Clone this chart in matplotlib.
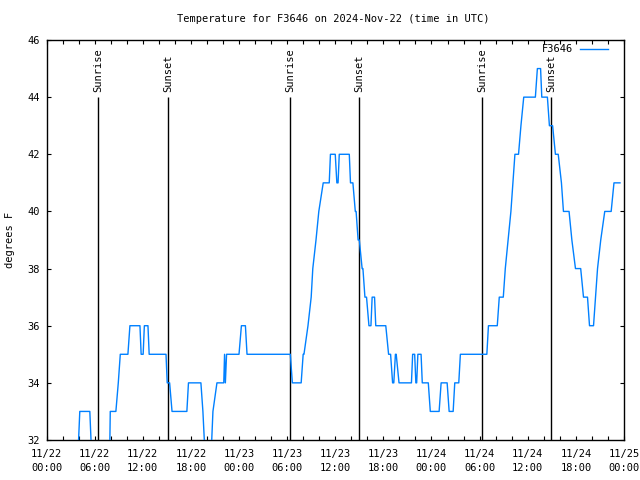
import matplotlib
matplotlib.use("Agg")
import matplotlib.pyplot as plt

# ---- data (hours since 2024-11-22 00:00 UTC, temperature in F) ----
hours = [0.0, 3.85, 4.15, 5.4, 5.7, 7.85, 7.95, 8.65, 8.95, 9.2,
         10.15, 10.4, 11.65, 11.8, 12.05, 12.2, 12.65, 12.8, 14.9, 15.05,
         15.35, 15.65, 17.5, 17.7, 19.25, 19.5, 19.85, 20.45, 20.75, 21.25,
         22.1, 22.2, 22.3, 22.45, 24.0, 24.3, 24.8, 25.0, 30.4, 30.65,
         31.75, 32.0, 32.1, 32.6, 33.0, 33.2, 33.6, 33.95, 34.5, 35.25,
         35.4, 36.0, 36.2, 36.35, 36.5, 37.75, 37.9, 38.2, 38.5, 38.6,
         38.85, 39.0, 39.35, 39.45, 39.7, 39.9, 40.2, 40.45, 40.6, 40.9,
         41.05, 42.3, 42.65, 42.9, 43.15, 43.3, 43.5, 43.6, 43.95, 45.5,
         45.65, 45.9, 46.05, 46.15, 46.3, 46.7, 46.85, 47.6, 47.85, 48.95,
         49.2, 49.95, 50.2, 50.7, 50.9, 51.4, 51.6, 54.9, 55.1, 56.2,
         56.45, 56.95, 57.2, 57.55, 57.9, 58.15, 58.4, 58.85, 59.15, 59.5,
         60.95, 61.2, 61.6, 61.75, 62.45, 62.7, 63.1, 63.45, 63.8, 64.2,
         64.45, 65.15, 65.5, 65.95, 66.6, 66.95, 67.45, 67.7, 68.2, 68.45,
         68.7, 69.1, 69.6, 70.4, 70.75, 71.5]
temps = [31, 31, 33, 33, 31, 31, 33, 33, 34, 35,
         35, 36, 36, 35, 35, 36, 36, 35, 35, 34,
         34, 33, 33, 34, 34, 33, 31, 31, 33, 34,
         34, 35, 34, 35, 35, 36, 36, 35, 35, 34,
         34, 35, 35, 36, 37, 38, 39, 40, 41, 41,
         42, 42, 41, 41, 42, 42, 41, 41, 40, 40,
         39, 39, 38, 38, 37, 37, 36, 36, 37, 37,
         36, 36, 35, 35, 34, 34, 35, 35, 34, 34,
         35, 35, 34, 34, 35, 35, 34, 34, 33, 33,
         34, 34, 33, 33, 34, 34, 35, 35, 36, 36,
         37, 37, 38, 39, 40, 41, 42, 42, 43, 44,
         44, 45, 45, 44, 44, 43, 43, 42, 42, 41,
         40, 40, 39, 38, 38, 37, 37, 36, 36, 37,
         38, 39, 40, 40, 41, 41]

event_hours = [6.4, 15.15, 30.4, 39.0, 54.35, 62.95]
event_labels = ["Sunrise", "Sunset", "Sunrise", "Sunset", "Sunrise", "Sunset"]

tick_hours = [0, 6, 12, 18, 24, 30, 36, 42, 48, 54, 60, 66, 72]
tick_labels = ["11/22\n00:00", "11/22\n06:00", "11/22\n12:00", "11/22\n18:00",
               "11/23\n00:00", "11/23\n06:00", "11/23\n12:00", "11/23\n18:00",
               "11/24\n00:00", "11/24\n06:00", "11/24\n12:00", "11/24\n18:00",
               "11/25\n00:00"]

series_name = "F3646"
title = "Temperature for F3646 on 2024-Nov-22 (time in UTC)"

# ---- style ----
plt.rcParams['font.family'] = ['DejaVu Sans Mono']
FS = 7.5

fig = plt.figure(figsize=(6.4, 4.8), dpi=100)
ax = fig.add_axes([46.5 / 640, 40 / 480, 577.5 / 640, 400 / 480])

ax.plot(hours, temps, color='#0080ff', lw=1.0, label=series_name, zorder=3)

for h, lab in zip(event_hours, event_labels):
    ax.vlines(h, 32, 44.0, color='black', lw=1.0, zorder=2)
    ax.text(h, 44.18, lab, rotation=90, ha='center', va='bottom', fontsize=FS)

ax.set_xlim(0, 72)
ax.set_ylim(32, 46)
ax.set_xticks(range(0, 73, 2))
ax.set_xticklabels([tick_labels[tick_hours.index(t)] if t in tick_hours else ""
                    for t in range(0, 73, 2)], linespacing=1.55)
ax.set_yticks(range(32, 47, 2))
ax.tick_params(direction='in', length=3, width=0.8, top=True, right=True,
               labelsize=FS, pad=5)
ax.tick_params(axis='x', pad=6.5)
for s in ax.spines.values():
    s.set_linewidth(1.0)
    s.set_color('black')

leg = ax.legend(loc='upper right', frameon=False, markerfirst=False,
                handlelength=2.7, handletextpad=0.6, borderaxespad=0.2,
                bbox_to_anchor=(1 - 10 / 577.5, 1 + 2 / 400),
                fontsize=FS)

fig.text(333 / 640, 1 - 19 / 480, title, ha='center', va='center', fontsize=FS)
fig.text(10 / 640, 0.5, "degrees F", rotation=90, ha='center', va='center',
         fontsize=FS)

fig.savefig("out.png", dpi=100)
